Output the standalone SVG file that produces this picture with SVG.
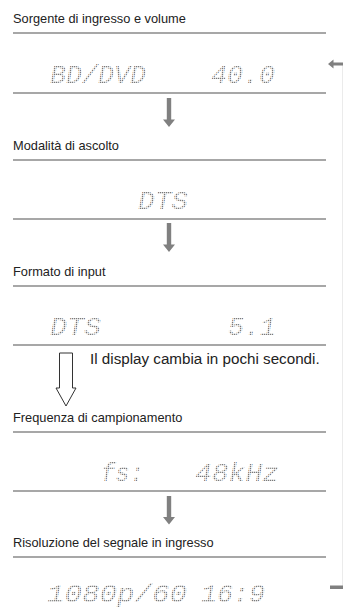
<svg xmlns="http://www.w3.org/2000/svg" width="343" height="614" viewBox="0 0 343 614">
<style>
.lbl{font-family:"Liberation Sans",Arial,sans-serif;font-size:12.8px;fill:#222}
.note{font-family:"Liberation Sans",Arial,sans-serif;font-size:15.2px;fill:#222}
.lcd{font-family:"Liberation Mono","DejaVu Sans Mono",monospace;font-style:italic;font-size:26px;fill:url(#dots)}
.rule{stroke:#8a8a8a;stroke-width:1.3;fill:none}
.arr{fill:#808080}
</style>
<defs>
<pattern id="dots" width="2" height="2" patternUnits="userSpaceOnUse">
<rect x="0" y="0" width="1.3" height="1.3" fill="#7a7a7a"/>
</pattern>
</defs>
<rect width="343" height="614" fill="#fff"/>
<g id="node-sorgente">
<text class="lbl" x="13" y="23">Sorgente di ingresso e volume</text>
<line class="rule" x1="13" y1="33" x2="326" y2="33"/>
<text class="lcd" x="50" y="83" textLength="96" lengthAdjust="spacingAndGlyphs">BD/DVD</text>
<text class="lcd" x="211" y="83" textLength="64" lengthAdjust="spacingAndGlyphs">40.0</text>
<line class="rule" x1="13" y1="93" x2="326" y2="93"/>
</g>
<g id="node-modalita">
<text class="lbl" x="13" y="150">Modalità di ascolto</text>
<line class="rule" x1="13" y1="160" x2="326" y2="160"/>
<text class="lcd" x="138" y="209" textLength="50" lengthAdjust="spacingAndGlyphs">DTS</text>
<line class="rule" x1="13" y1="219" x2="326" y2="219"/>
</g>
<g id="node-formato">
<text class="lbl" x="13" y="276">Formato di input</text>
<line class="rule" x1="13" y1="286" x2="326" y2="286"/>
<text class="lcd" x="50" y="335" textLength="51" lengthAdjust="spacingAndGlyphs">DTS</text>
<text class="lcd" x="228" y="335" textLength="48" lengthAdjust="spacingAndGlyphs">5.1</text>
<line class="rule" x1="13" y1="345" x2="326" y2="345"/>
</g>
<g id="node-note">
<text class="note" x="90" y="364">Il display cambia in pochi secondi.</text>
</g>
<g id="node-frequenza">
<text class="lbl" x="13" y="422">Frequenza di campionamento</text>
<line class="rule" x1="13" y1="432" x2="326" y2="432"/>
<text class="lcd" x="101" y="481" textLength="43" lengthAdjust="spacingAndGlyphs">fs:</text>
<text class="lcd" x="195" y="481" textLength="84" lengthAdjust="spacingAndGlyphs">48kHz</text>
<line class="rule" x1="13" y1="491" x2="326" y2="491"/>
</g>
<g id="node-risoluzione">
<text class="lbl" x="13" y="547">Risoluzione del segnale in ingresso</text>
<line class="rule" x1="13" y1="557" x2="326" y2="557"/>
<text class="lcd" x="47" y="602" textLength="140" lengthAdjust="spacingAndGlyphs">1080p/60</text>
<text class="lcd" x="201" y="602" textLength="64" lengthAdjust="spacingAndGlyphs">16:9</text>
</g>
<g id="connectors">
<path class="arr" d="M166.8,98 H171.2 V119.5 H175 L169,127 L163,119.5 H166.8 Z"/>
<path class="arr" d="M166.8,223 H171.2 V244.5 H175 L169,252 L163,244.5 H166.8 Z"/>
<path class="arr" d="M166.8,496 H171.2 V517 H175 L169,524.5 L163,517 H166.8 Z"/>
<path d="M59.5,353 H72.5 V388 H76 L66,406 L56,388 H59.5 Z" fill="#fff" stroke="#333" stroke-width="1"/>
<line x1="342.5" y1="64" x2="342.5" y2="587" stroke="#ebebeb" stroke-width="1"/>
<path class="arr" d="M328,64 L333.5,59.5 V62.5 H343 V65.5 H333.5 V68.5 Z"/>
<rect class="arr" x="330" y="585.5" width="13" height="3.5"/>
</g>
</svg>
